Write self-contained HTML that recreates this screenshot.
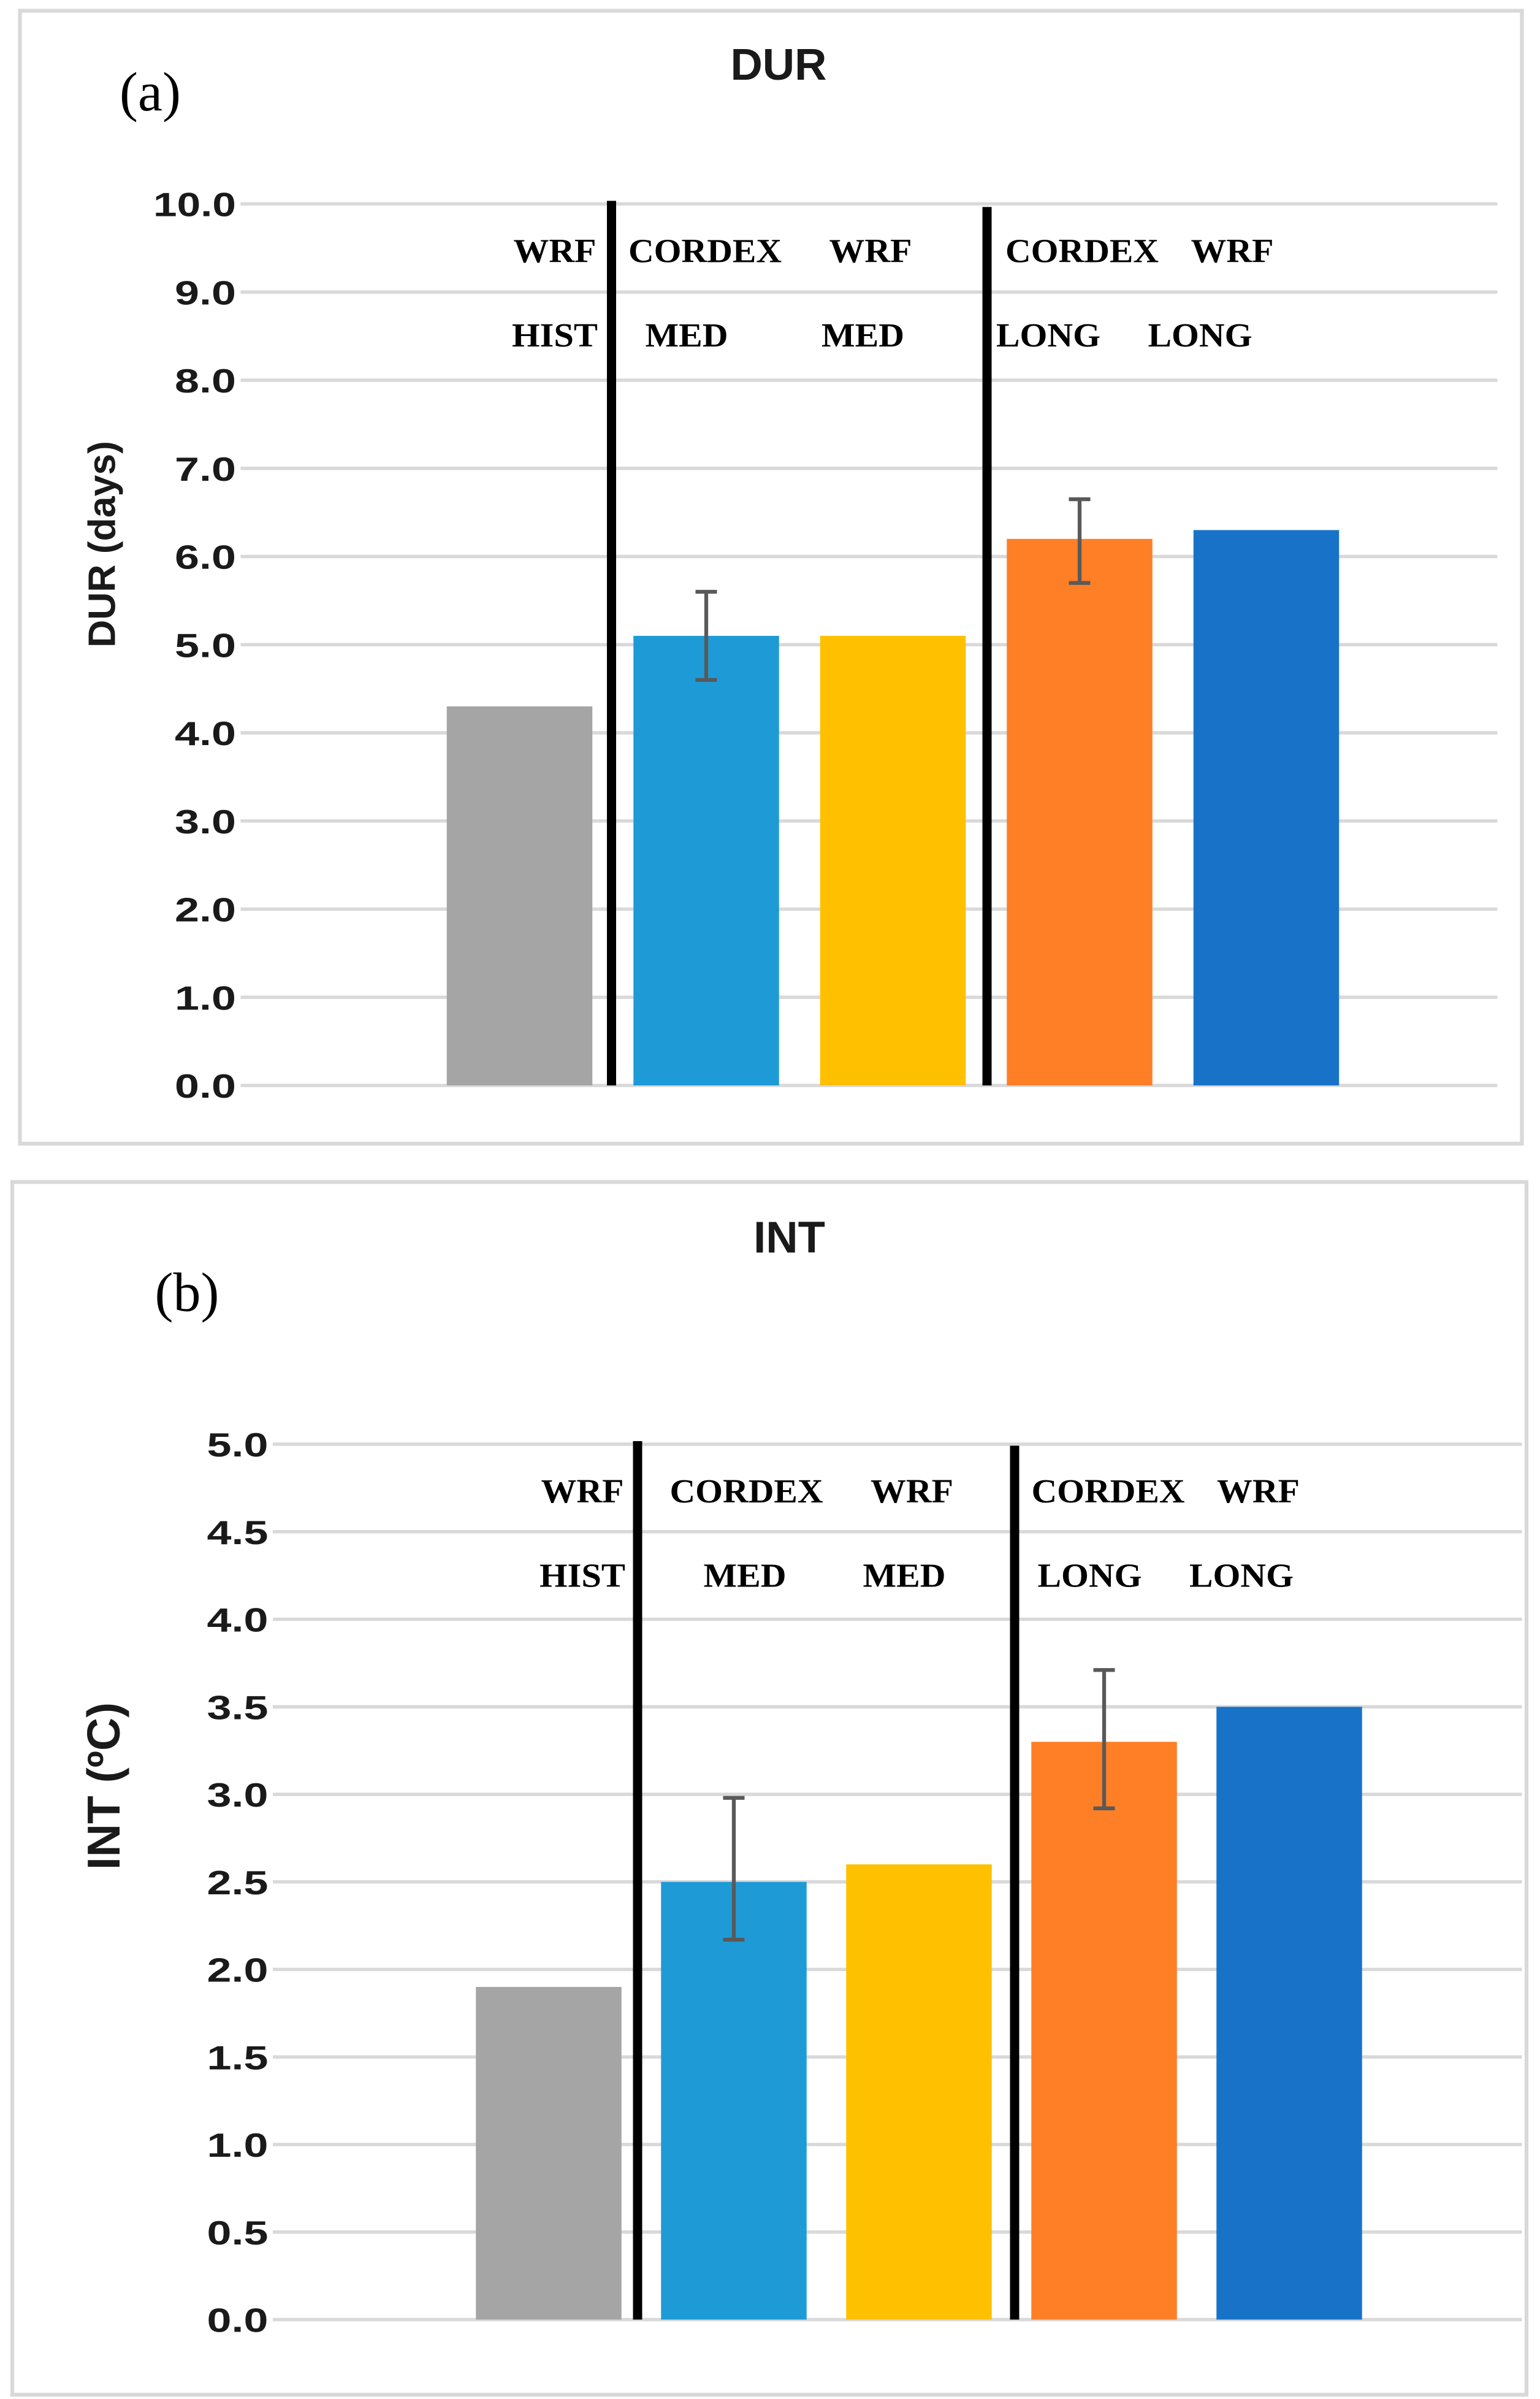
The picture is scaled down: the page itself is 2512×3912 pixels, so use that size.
<!DOCTYPE html>
<html><head><meta charset="utf-8"><style>
html,body{margin:0;padding:0;background:#fff;}
svg{display:block;}
</style></head><body>
<svg id="fig" xmlns="http://www.w3.org/2000/svg" width="2512" height="3912" viewBox="0 0 1004.8 1564.8"></svg>
<script>
const categories = ["WRF HIST","CORDEX MED","WRF MED","CORDEX LONG","WRF LONG"];
const colors = ["#a5a5a5","#1e9bd7","#ffc000","#ff7f27","#1873c8"];
const durValues = [4.3, 5.1, 5.1, 6.2, 6.3];
const durErrLow = [null, 4.6, null, 5.7, null];
const durErrHigh = [null, 5.6, null, 6.65, null];
const durTicks = ["0.0","1.0","2.0","3.0","4.0","5.0","6.0","7.0","8.0","9.0","10.0"];
const intValues = [1.9, 2.5, 2.6, 3.3, 3.5];
const intErrLow = [null, 2.17, null, 2.92, null];
const intErrHigh = [null, 2.98, null, 3.71, null];
const intTicks = ["0.0","0.5","1.0","1.5","2.0","2.5","3.0","3.5","4.0","4.5","5.0"];
const labelTop = ["WRF","CORDEX","WRF","CORDEX","WRF"];
const labelBot = ["HIST","MED","MED","LONG","LONG"];

const NS = "http://www.w3.org/2000/svg";
const svg = document.getElementById('fig');
function mk(tag, attrs, parent){
  const e = document.createElementNS(NS, tag);
  for (const k in attrs) e.setAttribute(k, attrs[k]);
  (parent||svg).appendChild(e);
  return e;
}

function chart(cfg){
  const g = mk('g', {});
  
  
  const fr = mk('rect', {x:cfg.frame[0], y:cfg.frame[1], width:cfg.frame[2]-cfg.frame[0], height:cfg.frame[3]-cfg.frame[1], fill:'#fff', stroke:'#d9d9d9', 'stroke-width':2.5}, g);
  
  
  const vmax = cfg.max;
  const y = v => cfg.y0 + (cfg.y1 - cfg.y0) * (v / vmax);
  const x = i => cfg.xc0 + i * cfg.step;
  cfg.ticks.forEach((t) => {
    const v = parseFloat(t);
    const gl = mk('line', {x1:cfg.gx0, x2:cfg.gx1, y1:y(v), y2:y(v), stroke:'#d9d9d9', 'stroke-width':2.2}, g);
    
    
    const tl = mk('text', {x:cfg.gx0-3, y:y(v)+8, 'text-anchor':'end', 'font-family':'Liberation Sans, sans-serif', 'font-weight':'bold', 'font-size':22, fill:'#1a1a1a', 'textLength':t.length>3?54:40, 'lengthAdjust':'spacingAndGlyphs'}, g);
    tl.textContent = t;
    
    
  });
  cfg.values.forEach((v, i) => {
    const b = mk('rect', {x:x(i)-cfg.bw/2, y:y(v), width:cfg.bw, height:y(0)-y(v), fill:colors[i]}, g);
    
    
  });
  cfg.errLow.forEach((lo, i) => {
    if (lo === null) return;
    const hi = cfg.errHigh[i];
    const eg = mk('g', {stroke:'#595959', 'stroke-width':2.5}, g);
    
    
    mk('line', {x1:x(i), x2:x(i), y1:y(lo), y2:y(hi)}, eg);
    mk('line', {x1:x(i)-7, x2:x(i)+7, y1:y(lo), y2:y(lo)}, eg);
    mk('line', {x1:x(i)-7, x2:x(i)+7, y1:y(hi), y2:y(hi)}, eg);
  });
  cfg.seps.forEach(s => {
    const l = mk('line', {x1:s[0], x2:s[0], y1:s[1], y2:y(0), stroke:'#000', 'stroke-width':6}, g);
    
    
  });
  const lw = {"WRF":54,"CORDEX":100,"HIST":56,"MED":54,"LONG":68};
  labelTop.forEach((t, i) => {
    const a = mk('text', {x:cfg.lx[i][0], y:cfg.ly[0], 'text-anchor':'middle', 'font-family':'Liberation Serif, serif', 'font-weight':'bold', 'font-size':22, fill:'#000', textLength:lw[t], lengthAdjust:'spacingAndGlyphs'}, g);
    a.textContent = t;
    
    
    const b = mk('text', {x:cfg.lx[i][1], y:cfg.ly[1], 'text-anchor':'middle', 'font-family':'Liberation Serif, serif', 'font-weight':'bold', 'font-size':22, fill:'#000', textLength:lw[labelBot[i]], lengthAdjust:'spacingAndGlyphs'}, g);
    b.textContent = labelBot[i];
    
    
  });
  const tt = mk('text', {x:cfg.title[1], y:cfg.title[2], 'text-anchor':'middle', 'font-family':'Liberation Sans, sans-serif', 'font-weight':'bold', 'font-size':29, fill:'#1a1a1a'}, g);
  tt.textContent = cfg.title[0];
  
  
  const pl = mk('text', {x:cfg.panel[1], y:cfg.panel[2], 'text-anchor':'middle', 'font-family':'Liberation Serif, serif', 'font-size':36, fill:'#000'}, g);
  pl.textContent = cfg.panel[0];
  
  
  const yt = mk('text', {x:0, y:0, transform:`translate(${cfg.ytitle[1]},${cfg.ytitle[2]}) rotate(-90)`, 'text-anchor':'middle', 'font-family':'Liberation Sans, sans-serif', 'font-weight':'bold', 'font-size':cfg.ytitle[3], fill:'#1a1a1a'}, g);
  yt.textContent = cfg.ytitle[0];
  
  
}

chart({name:'chart-dur', frame:[13,7,993,746], max:10, values:durValues, errLow:durErrLow, errHigh:durErrHigh, ticks:durTicks,
  y0:708, y1:133, gx0:157, gx1:977, xc0:339, step:121.8, bw:95,
  seps:[[399,131],[644,135]], lx:[[362,362],[460,448],[568,563],[706,684],[804,783]], ly:[171,226],
  title:['DUR',508,52], panel:['(a)',98,72], ytitle:['DUR (days)',75,355,25]});
chart({name:'chart-int', frame:[8,771,996,1562], max:5, values:intValues, errLow:intErrLow, errHigh:intErrHigh, ticks:intTicks,
  y0:1513, y1:942, gx0:178, gx1:993, xc0:358, step:120.8, bw:95,
  seps:[[416,940],[662,943]], lx:[[380,380],[487,486],[595,590],[723,711],[821,810]], ly:[980,1035],
  title:['INT',515,817], panel:['(b)',122,855], ytitle:['INT (ºC)',78,1165,30]});
</script>
</body></html>
